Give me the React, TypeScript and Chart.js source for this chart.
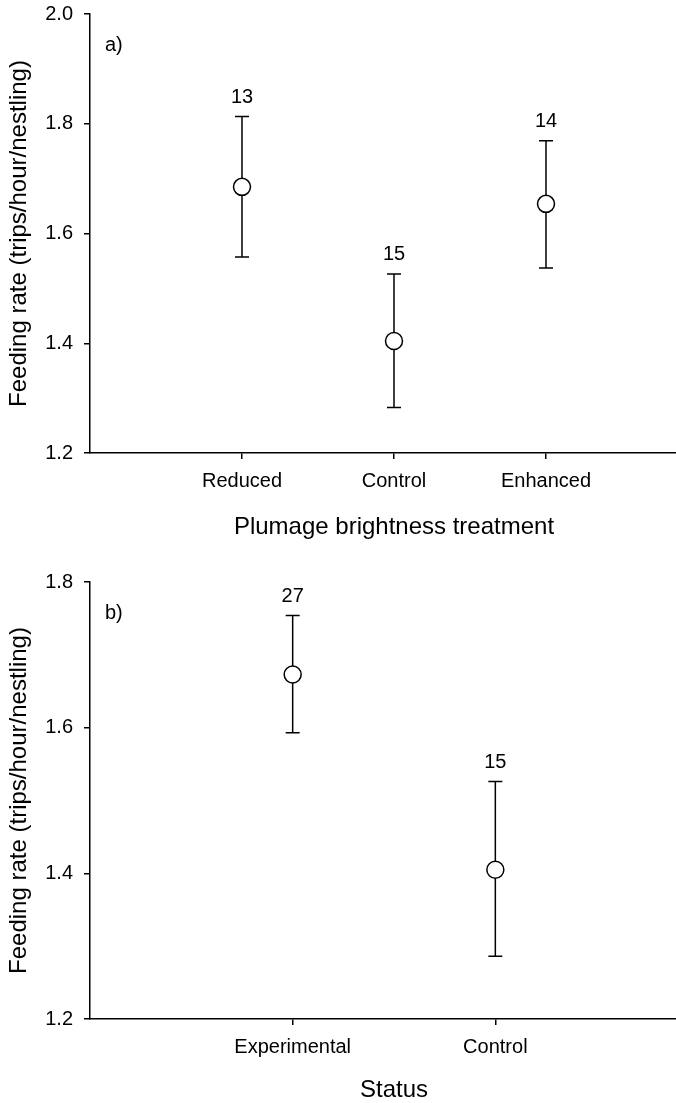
import React, { useEffect, useRef } from 'react';
import { Chart, registerables } from 'chart.js';
Chart.register(...registerables);

// ---- Data ----
const treatmentCategories = ['Reduced', 'Control', 'Enhanced'];
const treatmentMeans = [1.685, 1.404, 1.654];
const treatmentUpper = [1.813, 1.526, 1.769];
const treatmentLower = [1.557, 1.283, 1.537];
const treatmentN = ['13', '15', '14'];
const treatmentYTicks = [1.2, 1.4, 1.6, 1.8, 2.0];

const statusCategories = ['Experimental', 'Control'];
const statusMeans = [1.673, 1.405];
const statusUpper = [1.754, 1.526];
const statusLower = [1.593, 1.286];
const statusN = ['27', '15'];
const statusYTicks = [1.2, 1.4, 1.6, 1.8];

const FONT = "'Liberation Sans', Arial, Helvetica, sans-serif";

type PanelProps = {
  categories: string[];
  means: number[];
  upper: number[];
  lower: number[];
  nLabels: string[];
  yTicks: number[];
  xTitle: string;
  panelLabel: string;
  top: number;
  height: number;
  areaTop: number;
  areaBottom: number;
  xTitlePad: number;
};

function Panel(p: PanelProps) {
  const ref = useRef<HTMLCanvasElement>(null);
  useEffect(() => {
    if (!ref.current) return;
    const yMin = p.yTicks[0];
    const yMax = p.yTicks[p.yTicks.length - 1];
    const errorPlugin = {
      id: 'errorBars',
      beforeDatasetsDraw(chart: any) {
        const ctx = chart.ctx;
        const xs = chart.scales.x;
        const ys = chart.scales.y;
        ctx.save();
        ctx.strokeStyle = '#000';
        ctx.lineWidth = 1.5;
        p.means.forEach((_, i) => {
          const x = xs.getPixelForValue(i + 1);
          const yu = ys.getPixelForValue(p.upper[i]);
          const yl = ys.getPixelForValue(p.lower[i]);
          ctx.beginPath();
          ctx.moveTo(x, yu);
          ctx.lineTo(x, yl);
          ctx.moveTo(x - 7, yu);
          ctx.lineTo(x + 7, yu);
          ctx.moveTo(x - 7, yl);
          ctx.lineTo(x + 7, yl);
          ctx.stroke();
        });
        ctx.restore();
      },
      afterDatasetsDraw(chart: any) {
        const ctx = chart.ctx;
        const xs = chart.scales.x;
        const ys = chart.scales.y;
        ctx.save();
        ctx.fillStyle = '#000';
        ctx.font = `20px ${FONT}`;
        ctx.textAlign = 'center';
        ctx.textBaseline = 'alphabetic';
        p.nLabels.forEach((t, i) => {
          const x = xs.getPixelForValue(i + 1);
          const yu = ys.getPixelForValue(p.upper[i]);
          ctx.fillText(t, x, yu - 14);
        });
        ctx.textAlign = 'left';
        ctx.textBaseline = 'middle';
        ctx.fillText(p.panelLabel, chart.chartArea.left + 15, chart.chartArea.top + 31);
        ctx.restore();
      },
    };
    const chart = new Chart(ref.current, {
      type: 'scatter',
      data: {
        datasets: [
          {
            data: p.means.map((m, i) => ({ x: i + 1, y: m })),
            pointRadius: 8.5,
            pointHoverRadius: 8.5,
            pointBackgroundColor: '#fff',
            pointBorderColor: '#000',
            pointBorderWidth: 1.5,
            showLine: false,
          },
        ],
      },
      options: {
        animation: false,
        responsive: false,
        maintainAspectRatio: false,
        events: [],
        layout: { padding: { top: p.areaTop, left: 0, right: 22, bottom: 0 } },
        plugins: { legend: { display: false }, tooltip: { enabled: false } },
        scales: {
          x: {
            type: 'linear',
            min: 0,
            max: p.categories.length + 1,
            afterBuildTicks: (s: any) => {
              s.ticks = p.categories.map((_, i) => ({ value: i + 1 }));
            },
            afterFit: (s: any) => {
              s.height = p.height - p.areaBottom;
              s.paddingLeft = 0;
              s.paddingRight = 0;
            },
            ticks: {
              autoSkip: false,
              maxRotation: 0,
              color: '#000',
              padding: 10,
              font: { family: FONT, size: 20 },
              callback: (v: any) => p.categories[Number(v) - 1] ?? '',
            },
            grid: { drawOnChartArea: false, drawTicks: true, tickLength: 6, color: '#000', lineWidth: 1.5 },
            border: { display: true, color: '#000', width: 1.5 },
            title: {
              display: true,
              text: p.xTitle,
              color: '#000',
              font: { family: FONT, size: 24 },
              padding: { top: 0, bottom: p.xTitlePad },
            },
          },
          y: {
            type: 'linear',
            min: yMin,
            max: yMax,
            afterBuildTicks: (s: any) => {
              s.ticks = p.yTicks.map((v) => ({ value: v }));
            },
            afterFit: (s: any) => {
              s.width = 90;
              s.paddingTop = 0;
              s.paddingBottom = 0;
            },
            ticks: {
              color: '#000',
              padding: 11,
              font: { family: FONT, size: 20 },
              callback: (v: any) => Number(v).toFixed(1),
            },
            grid: { drawOnChartArea: false, drawTicks: true, tickLength: 6, color: '#000', lineWidth: 1.5 },
            border: { display: true, color: '#000', width: 1.5 },
            title: {
              display: true,
              text: 'Feeding rate (trips/hour/nestling)',
              color: '#000',
              font: { family: FONT, size: 24 },
              padding: { top: 5, bottom: 0 },
            },
          },
        },
      },
      plugins: [errorPlugin],
    } as any);
    return () => chart.destroy();
  }, []);
  return (
    <canvas
      ref={ref}
      width={720}
      height={p.height}
      style={{ position: 'absolute', left: 0, top: p.top, width: 720, height: p.height }}
    />
  );
}

export default function App() {
  return (
    <div
      style={{
        position: 'absolute',
        left: 0,
        top: 0,
        width: 676,
        height: 1103,
        overflow: 'hidden',
        background: '#fff',
      }}
    >
      <Panel
        categories={treatmentCategories}
        means={treatmentMeans}
        upper={treatmentUpper}
        lower={treatmentLower}
        nLabels={treatmentN}
        yTicks={treatmentYTicks}
        xTitle="Plumage brightness treatment"
        panelLabel="a)"
        top={0}
        height={545}
        areaTop={14}
        areaBottom={453}
        xTitlePad={3.6}
      />
      <Panel
        categories={statusCategories}
        means={statusMeans}
        upper={statusUpper}
        lower={statusLower}
        nLabels={statusN}
        yTicks={statusYTicks}
        xTitle="Status"
        panelLabel="b)"
        top={545}
        height={560}
        areaTop={37}
        areaBottom={474}
        xTitlePad={0.6}
      />
    </div>
  );
}
